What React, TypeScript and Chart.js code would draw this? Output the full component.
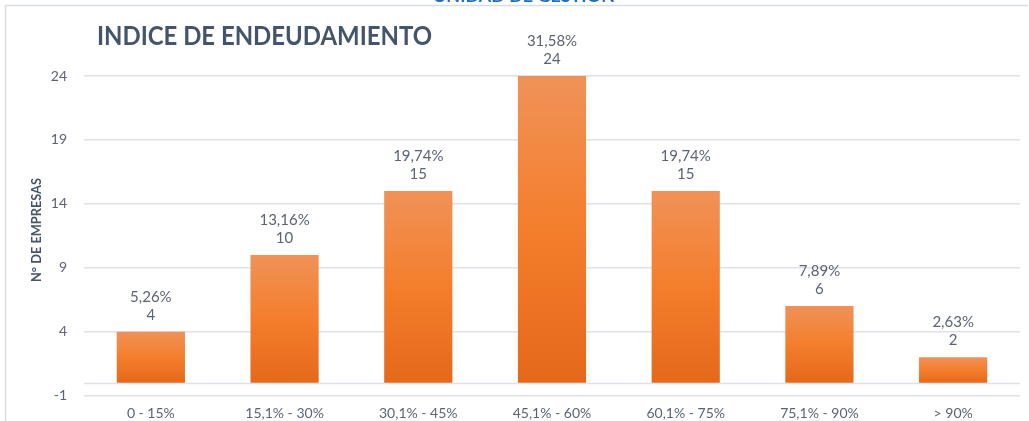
import React, { useEffect, useRef } from "react";
import { Chart, registerables } from "chart.js";

Chart.register(...registerables);

const categories = ["0 - 15%", "15,1% - 30%", "30,1% - 45%", "45,1% - 60%", "60,1% - 75%", "75,1% - 90%", "> 90%"];
const counts = [4, 10, 15, 24, 15, 6, 2];
const percentLabels = ["5,26%", "13,16%", "19,74%", "31,58%", "19,74%", "7,89%", "2,63%"];
const yTicks = { min: -1, max: 24, step: 5 };
const chartTitle = "INDICE DE ENDEUDAMIENTO";
const headerText = "UNIDAD DE GESTION";
const yAxisTitle = "N° DE EMPRESAS";

const FONT = "Lato, 'Noto Sans', sans-serif";
const TEXT = "#5b6475";
const TITLE = "#44546a";
const GRID = "#dde2e8";

const decorPlugin = {
  id: "decor",
  beforeDatasetsDraw(chart: any) {
    const { ctx, chartArea, scales } = chart;
    const y0 = scales.y.getPixelForValue(0);
    ctx.save();
    ctx.strokeStyle = GRID;
    ctx.lineWidth = 1.5;
    ctx.beginPath();
    ctx.moveTo(chartArea.left, Math.round(y0) + 0.5);
    ctx.lineTo(chartArea.right, Math.round(y0) + 0.5);
    ctx.stroke();
    ctx.restore();
  },
  afterDraw(chart: any) {
    const { ctx } = chart;
    ctx.save();
    // frame
    ctx.strokeStyle = "#d8dde3";
    ctx.lineWidth = 1.5;
    ctx.beginPath();
    ctx.moveTo(5.5, 421);
    ctx.lineTo(5.5, 5.5);
    ctx.lineTo(1028, 5.5);
    ctx.stroke();
    // header (cut off)
    ctx.fillStyle = "#1f6fbf";
    ctx.font = `bold 17px ${FONT}`;
    ctx.textAlign = "left";
    ctx.textBaseline = "alphabetic";
    const hw = ctx.measureText(headerText).width;
    ctx.save();
    ctx.translate(433, 2);
    ctx.scale(182 / hw, 1);
    ctx.fillText(headerText, 0, 0);
    ctx.restore();
    // title
    ctx.fillStyle = TITLE;
    ctx.font = `bold 27px ${FONT}`;
    const tw = ctx.measureText(chartTitle).width;
    ctx.save();
    ctx.translate(97, 45);
    ctx.scale(335 / tw, 1);
    ctx.fillText(chartTitle, 0, 0);
    ctx.restore();
    // y axis title
    ctx.font = `bold 14px ${FONT}`;
    const aw = ctx.measureText(yAxisTitle).width;
    ctx.save();
    ctx.translate(41, 230);
    ctx.rotate(-Math.PI / 2);
    ctx.scale(104 / aw, 1);
    ctx.textAlign = "center";
    ctx.fillText(yAxisTitle, 0, 0);
    ctx.restore();
    // data labels
    const meta = chart.getDatasetMeta(0);
    ctx.fillStyle = TEXT;
    ctx.font = `15px ${FONT}`;
    ctx.textAlign = "center";
    ctx.textBaseline = "middle";
    meta.data.forEach((bar: any, i: number) => {
      ctx.fillText(String(counts[i]), bar.x, bar.y - 17);
      ctx.fillText(percentLabels[i], bar.x, bar.y - 35);
    });
    ctx.restore();
  },
};

export default function App() {
  const ref = useRef<HTMLCanvasElement>(null);
  useEffect(() => {
    document.body.style.margin = "0";
    const chart = new Chart(ref.current!, {
      type: "bar",
      data: {
        labels: categories,
        datasets: [
          {
            data: counts,
            backgroundColor: (ctx: any) => {
              const c = ctx.chart;
              const s = c.scales && c.scales.y;
              if (!s || !c.chartArea || ctx.dataIndex === undefined) return "#f47f2c";
              const top = s.getPixelForValue(counts[ctx.dataIndex]);
              const bot = s.getPixelForValue(0);
              if (!isFinite(top) || !isFinite(bot) || top === bot) return "#f47f2c";
              const g = c.ctx.createLinearGradient(0, top, 0, bot);
              g.addColorStop(0, "#f09258");
              g.addColorStop(0.5, "#f47e2c");
              g.addColorStop(1, "#e4691b");
              return g;
            },
            borderWidth: 0,
            categoryPercentage: 0.51,
            barPercentage: 1,
          },
        ],
      },
      options: {
        animation: false,
        responsive: true,
        maintainAspectRatio: false,
        layout: { padding: { top: 76, right: 9, bottom: 0, left: 0 } },
        plugins: { legend: { display: false }, tooltip: { enabled: false }, title: { display: false } },
        scales: {
          x: {
            grid: { display: false },
            border: { display: false },
            ticks: { color: TEXT, font: { family: FONT, size: 14 }, padding: 1, maxRotation: 0 },
            afterFit: (s: any) => {
              s.height = 25;
            },
          },
          y: {
            min: yTicks.min,
            max: yTicks.max,
            ticks: { stepSize: yTicks.step, color: TEXT, font: { family: FONT, size: 14 }, padding: 17 },
            grid: { color: GRID, lineWidth: 1.5, drawTicks: false },
            border: { display: false },
            afterFit: (s: any) => {
              s.width = 84;
            },
          },
        },
      },
      plugins: [decorPlugin],
    });
    return () => chart.destroy();
  }, []);
  return (
    <div style={{ position: "absolute", left: 0, top: 0, width: 1029, height: 421, background: "#fff" }}>
      <canvas ref={ref} />
    </div>
  );
}
